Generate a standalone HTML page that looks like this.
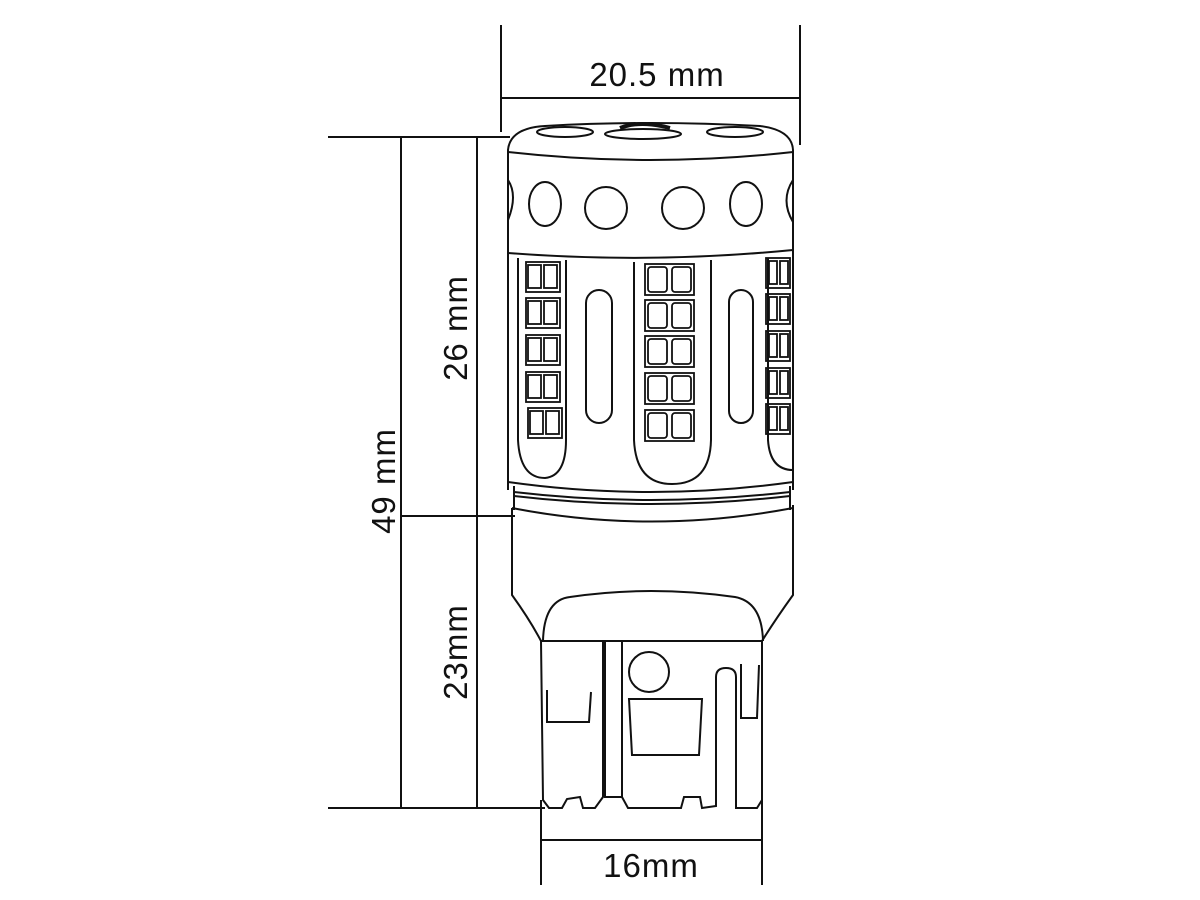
<!DOCTYPE html>
<html><head><meta charset="utf-8"><style>
html,body{margin:0;padding:0;background:#fff;}
svg{display:block;}
text{font-family:"Liberation Sans",sans-serif;font-size:33px;letter-spacing:1px;fill:#111;}
</style></head><body>
<svg width="1200" height="900" viewBox="0 0 1200 900" xmlns="http://www.w3.org/2000/svg">
<g stroke="#111" stroke-width="2" fill="none">
<line x1="501" y1="25" x2="501" y2="132"/>
<line x1="800" y1="25" x2="800" y2="145"/>
<line x1="501" y1="98" x2="800" y2="98"/>
<line x1="328" y1="137" x2="510" y2="137"/>
<line x1="328" y1="808" x2="545" y2="808"/>
<line x1="401" y1="516" x2="515" y2="516"/>
<line x1="401" y1="137" x2="401" y2="808"/>
<line x1="477" y1="137" x2="477" y2="808"/>
<line x1="541" y1="800" x2="541" y2="885"/>
<line x1="762" y1="800" x2="762" y2="885"/>
<line x1="541" y1="840" x2="762" y2="840"/>

<path d="M508 160 L508 150 Q510 128 545 126 Q650 120 760 126 Q792 130 793 150 L793 160"/>
<path d="M508 152 Q650 168 793 152"/>
<ellipse cx="565" cy="132" rx="28" ry="5"/>
<ellipse cx="643" cy="134" rx="38" ry="5"/>
<ellipse cx="735" cy="132" rx="28" ry="5"/>
<path d="M620 128 Q640 120 670 128" stroke-width="4"/>
<line x1="508" y1="152" x2="508" y2="490"/>
<line x1="793" y1="152" x2="793" y2="490"/>
<ellipse cx="545" cy="204" rx="16" ry="22"/>
<circle cx="606" cy="208" r="21"/>
<circle cx="683" cy="208" r="21"/>
<ellipse cx="746" cy="204" rx="16" ry="22"/>
<path d="M508 180 Q518 195 508 220"/>
<path d="M793 180 Q780 200 793 222"/>
<path d="M508 253 Q650 264 793 250"/>
<path d="M518 258 L518 440 Q520 478 545 478 Q566 476 566 440 L566 260"/>
<path d="M634 262 L634 440 Q636 484 672 484 Q710 484 711 440 L711 260"/>
<path d="M768 258 L768 440 Q770 470 793 470"/>
<rect x="586" y="290" width="26" height="133" rx="13"/>
<rect x="729" y="290" width="24" height="133" rx="12"/>
<g stroke-width="1.8">
<rect x="645" y="264" width="49" height="31"/><rect x="648" y="267" width="19" height="25" rx="3"/><rect x="672" y="267" width="19" height="25" rx="3"/>
<rect x="645" y="300" width="49" height="31"/><rect x="648" y="303" width="19" height="25" rx="3"/><rect x="672" y="303" width="19" height="25" rx="3"/>
<rect x="645" y="336" width="49" height="31"/><rect x="648" y="339" width="19" height="25" rx="3"/><rect x="672" y="339" width="19" height="25" rx="3"/>
<rect x="645" y="373" width="49" height="31"/><rect x="648" y="376" width="19" height="25" rx="3"/><rect x="672" y="376" width="19" height="25" rx="3"/>
<rect x="645" y="410" width="49" height="31"/><rect x="648" y="413" width="19" height="25" rx="3"/><rect x="672" y="413" width="19" height="25" rx="3"/>

<rect x="526" y="262" width="34" height="30"/><rect x="528" y="265" width="13" height="23"/><rect x="544" y="265" width="13" height="23"/>
<rect x="526" y="298" width="34" height="30"/><rect x="528" y="301" width="13" height="23"/><rect x="544" y="301" width="13" height="23"/>
<rect x="526" y="335" width="34" height="30"/><rect x="528" y="338" width="13" height="23"/><rect x="544" y="338" width="13" height="23"/>
<rect x="526" y="372" width="34" height="30"/><rect x="528" y="375" width="13" height="23"/><rect x="544" y="375" width="13" height="23"/>
<rect x="528" y="408" width="34" height="30"/><rect x="530" y="411" width="13" height="23"/><rect x="546" y="411" width="13" height="23"/>

<rect x="766" y="258" width="24" height="30"/><rect x="769" y="261" width="8" height="23"/><rect x="780" y="261" width="8" height="23"/>
<rect x="766" y="294" width="24" height="30"/><rect x="769" y="297" width="8" height="23"/><rect x="780" y="297" width="8" height="23"/>
<rect x="766" y="331" width="24" height="30"/><rect x="769" y="334" width="8" height="23"/><rect x="780" y="334" width="8" height="23"/>
<rect x="766" y="368" width="24" height="30"/><rect x="769" y="371" width="8" height="23"/><rect x="780" y="371" width="8" height="23"/>
<rect x="766" y="404" width="24" height="30"/><rect x="769" y="407" width="8" height="23"/><rect x="780" y="407" width="8" height="23"/>
</g>
<path d="M508 482 Q650 502 793 482"/>
<path d="M514 492 Q650 508 790 492"/>
<path d="M514 496 Q650 512 790 496"/>
<line x1="514" y1="486" x2="514" y2="510"/>
<line x1="790" y1="486" x2="790" y2="510"/>
<path d="M512 508 Q650 535 793 508"/>
<path d="M512 508 L512 595 Q530 620 541 641"/>
<path d="M793 505 L793 595 Q775 620 762 641"/>
<path d="M543 641 Q544 600 570 597 Q650 585 735 597 Q762 602 763 641"/>
<line x1="541" y1="641" x2="762" y2="641"/>
<path d="M541 641 L543 800 L549 808 L562 808 L567 799 L580 797 L583 808 L595 808 L603 797 L603 641"/>
<path d="M605 641 L605 797 L622 797 L622 641"/>
<path d="M622 797 L628 808 L681 808 L684 797 L700 797 L702 808 L716 806 L716 677 Q716 668 726 668 Q736 668 736 677 L736 808 L757 808 L762 800 L762 641"/>
<circle cx="649" cy="672" r="20"/>
<path d="M629 699 L702 699 L699 755 L632 755 Z"/>
<path d="M547 690 L547 722 L589 722 L591 692"/>
<path d="M741 664 L741 718 L757 718 L759 665"/>
</g>
<text x="657" y="86" text-anchor="middle">20.5 mm</text>
<text x="651" y="877" text-anchor="middle">16mm</text>
<text transform="translate(395,481) rotate(-90)" text-anchor="middle">49 mm</text>
<text transform="translate(467,328) rotate(-90)" text-anchor="middle">26 mm</text>
<text transform="translate(467,652) rotate(-90)" text-anchor="middle">23mm</text>
</svg>
</body></html>
